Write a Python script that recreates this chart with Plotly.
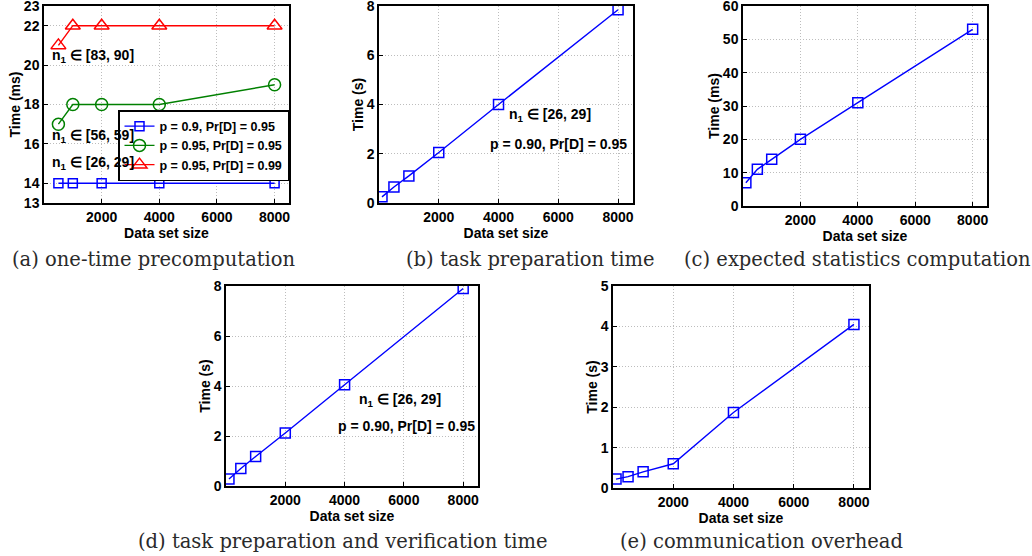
import plotly.graph_objects as go

# ---------------- data ----------------
sizes_a = [500, 1000, 2000, 4000, 8000]
a_p090_d095 = [14, 14, 14, 14, 14]
a_p095_d095 = [17, 18, 18, 18, 19]
a_p095_d099 = [21, 22, 22, 22, 22]
legend_a = ["p = 0.9, Pr[D] = 0.95", "p = 0.95, Pr[D] = 0.95", "p = 0.95, Pr[D] = 0.99"]

sizes = [100, 500, 1000, 2000, 4000, 8000]
b_task_prep = [0.25, 0.65, 1.1, 2.05, 4.0, 7.85]
c_expected_stats = [7, 11, 14, 20, 31, 53]
d_prep_verify = [0.28, 0.7, 1.18, 2.12, 4.05, 7.9]
e_comm = [0.22, 0.28, 0.4, 0.6, 1.87, 4.05]

x_ticks = [2000, 4000, 6000, 8000]
captions = ["(a) one-time precomputation", "(b) task preparation time",
            "(c) expected statistics computation",
            "(d) task preparation and verification time", "(e) communication overhead"]

BLUE = "#0000ff"
GREEN = "#008000"
RED = "#ff0000"
FONT = "Liberation Sans"
SERIF = "DejaVu Serif"

fig = go.Figure()

def line(x, y, color, symbol, size, name, xa, ya, showlegend=False):
    fig.add_trace(go.Scatter(
        x=x, y=y, mode="lines+markers", name=name, showlegend=showlegend,
        line=dict(color=color, width=1.4),
        marker=dict(symbol=symbol, size=size, color=color,
                    line=dict(color=color, width=1.5)),
        xaxis=xa, yaxis=ya))

# (a)
line(sizes_a, a_p090_d095, BLUE, "square-open", 9, legend_a[0], "x", "y", True)
line(sizes_a, a_p095_d095, GREEN, "circle-open", 12, legend_a[1], "x", "y", True)
line(sizes_a, a_p095_d099, RED, "triangle-up-open", 13, legend_a[2], "x", "y", True)
# (b)-(e)
line(sizes, b_task_prep, BLUE, "square-open", 10, "b", "x2", "y2")
line(sizes, c_expected_stats, BLUE, "square-open", 10, "c", "x3", "y3")
line(sizes, d_prep_verify, BLUE, "square-open", 10, "d", "x4", "y4")
line(sizes, e_comm, BLUE, "square-open", 10, "e", "x5", "y5")

W, H = 1032, 556
def dx(a, b):
    return [a / W, b / W]
def dy(top, bottom):
    return [1 - bottom / H, 1 - top / H]

tickfont = dict(family=FONT, size=14, color="black", weight="bold")
titlefont = dict(family=FONT, size=14, color="black", weight="bold")
GRID = dict(showgrid=True, gridcolor="#bdbdbd", griddash="1px,2px", gridwidth=1)
COMMON = dict(showline=True, mirror=True, linecolor="black", linewidth=1.5,
              ticks="inside", ticklen=4, tickcolor="black", automargin=False,
              ticklabeloverflow="allow", zeroline=False, tickfont=tickfont, **GRID)

def xaxis(domain, anchor):
    return dict(domain=domain, anchor=anchor, range=[0, 8500], tickvals=x_ticks,
                **COMMON,
                title=dict(text="Data set size", font=titlefont, standoff=0))

def yaxis(domain, anchor, rng, tickvals, title):
    return dict(domain=domain, anchor=anchor, range=rng, tickvals=tickvals,
                **COMMON,
                title=dict(text=title, font=titlefont, standoff=0))

fig.update_layout(
    width=W, height=H, margin=dict(l=0, r=0, t=0, b=0, autoexpand=False),
    paper_bgcolor="white", plot_bgcolor="white",
    xaxis=xaxis(dx(44, 289), "y"),
    yaxis=yaxis(dy(6, 203), "x", [13, 23], [13, 14, 16, 18, 20, 22, 23], "Time (ms)"),
    xaxis2=xaxis(dx(379, 633), "y2"),
    yaxis2=yaxis(dy(6, 203), "x2", [0, 8], [0, 2, 4, 6, 8], "Time (s)"),
    xaxis3=xaxis(dx(743, 987), "y3"),
    yaxis3=yaxis(dy(6, 206), "x3", [0, 60], [0, 10, 20, 30, 40, 50, 60], "Time (ms)"),
    xaxis4=xaxis(dx(226, 478), "y4"),
    yaxis4=yaxis(dy(286, 486), "x4", [0, 8], [0, 2, 4, 6, 8], "Time (s)"),
    xaxis5=xaxis(dx(613, 869), "y5"),
    yaxis5=yaxis(dy(286, 488), "x5", [0, 5], [0, 1, 2, 3, 4, 5], "Time (s)"),
    legend=dict(x=289 / W, y=1 - 110 / H, xanchor="right", yanchor="top",
                bgcolor="white", bordercolor="black", borderwidth=1.5,
                font=dict(family=FONT, size=12.5, color="black", weight="bold"),
                itemwidth=30, tracegroupgap=0),
    showlegend=True,
)

annot_font = dict(family=FONT, size=14, color="black", weight="bold")
n1 = "n<sub>1</sub> \u2208 "
ann = [
    # (a)
    dict(text=n1 + "[83, 90]", xref="paper", yref="paper", x=50 / W, y=1 - 56 / H),
    dict(text=n1 + "[56, 59]", xref="paper", yref="paper", x=50 / W, y=1 - 136 / H),
    dict(text=n1 + "[26, 29]", xref="paper", yref="paper", x=50 / W, y=1 - 163 / H),
    # (b)
    dict(text=n1 + "[26, 29]", xref="paper", yref="paper", x=507 / W, y=1 - 115 / H),
    dict(text="p = 0.90, Pr[D] = 0.95", xref="paper", yref="paper", x=488 / W, y=1 - 144 / H),
    # (d)
    dict(text=n1 + "[26, 29]", xref="paper", yref="paper", x=357 / W, y=1 - 400 / H),
    dict(text="p = 0.90, Pr[D] = 0.95", xref="paper", yref="paper", x=336 / W, y=1 - 426 / H),
]
for a in ann:
    fig.add_annotation(**a, showarrow=False, xanchor="left", yanchor="middle", font=annot_font)

cap_font = dict(family=SERIF, size=19.5, color="#2a2a2a")
cap_pos = [(154, 259), (530, 259), (857, 259), (343, 541), (761, 541)]
for text, (cx, cy) in zip(captions, cap_pos):
    fig.add_annotation(text=text, xref="paper", yref="paper", x=cx / W, y=1 - cy / H,
                       showarrow=False, xanchor="center", yanchor="middle", font=cap_font)

fig.write_html("out.html", config={"displayModeBar": False},
               post_script="document.body.style.margin='0';document.body.style.overflow='hidden';")
